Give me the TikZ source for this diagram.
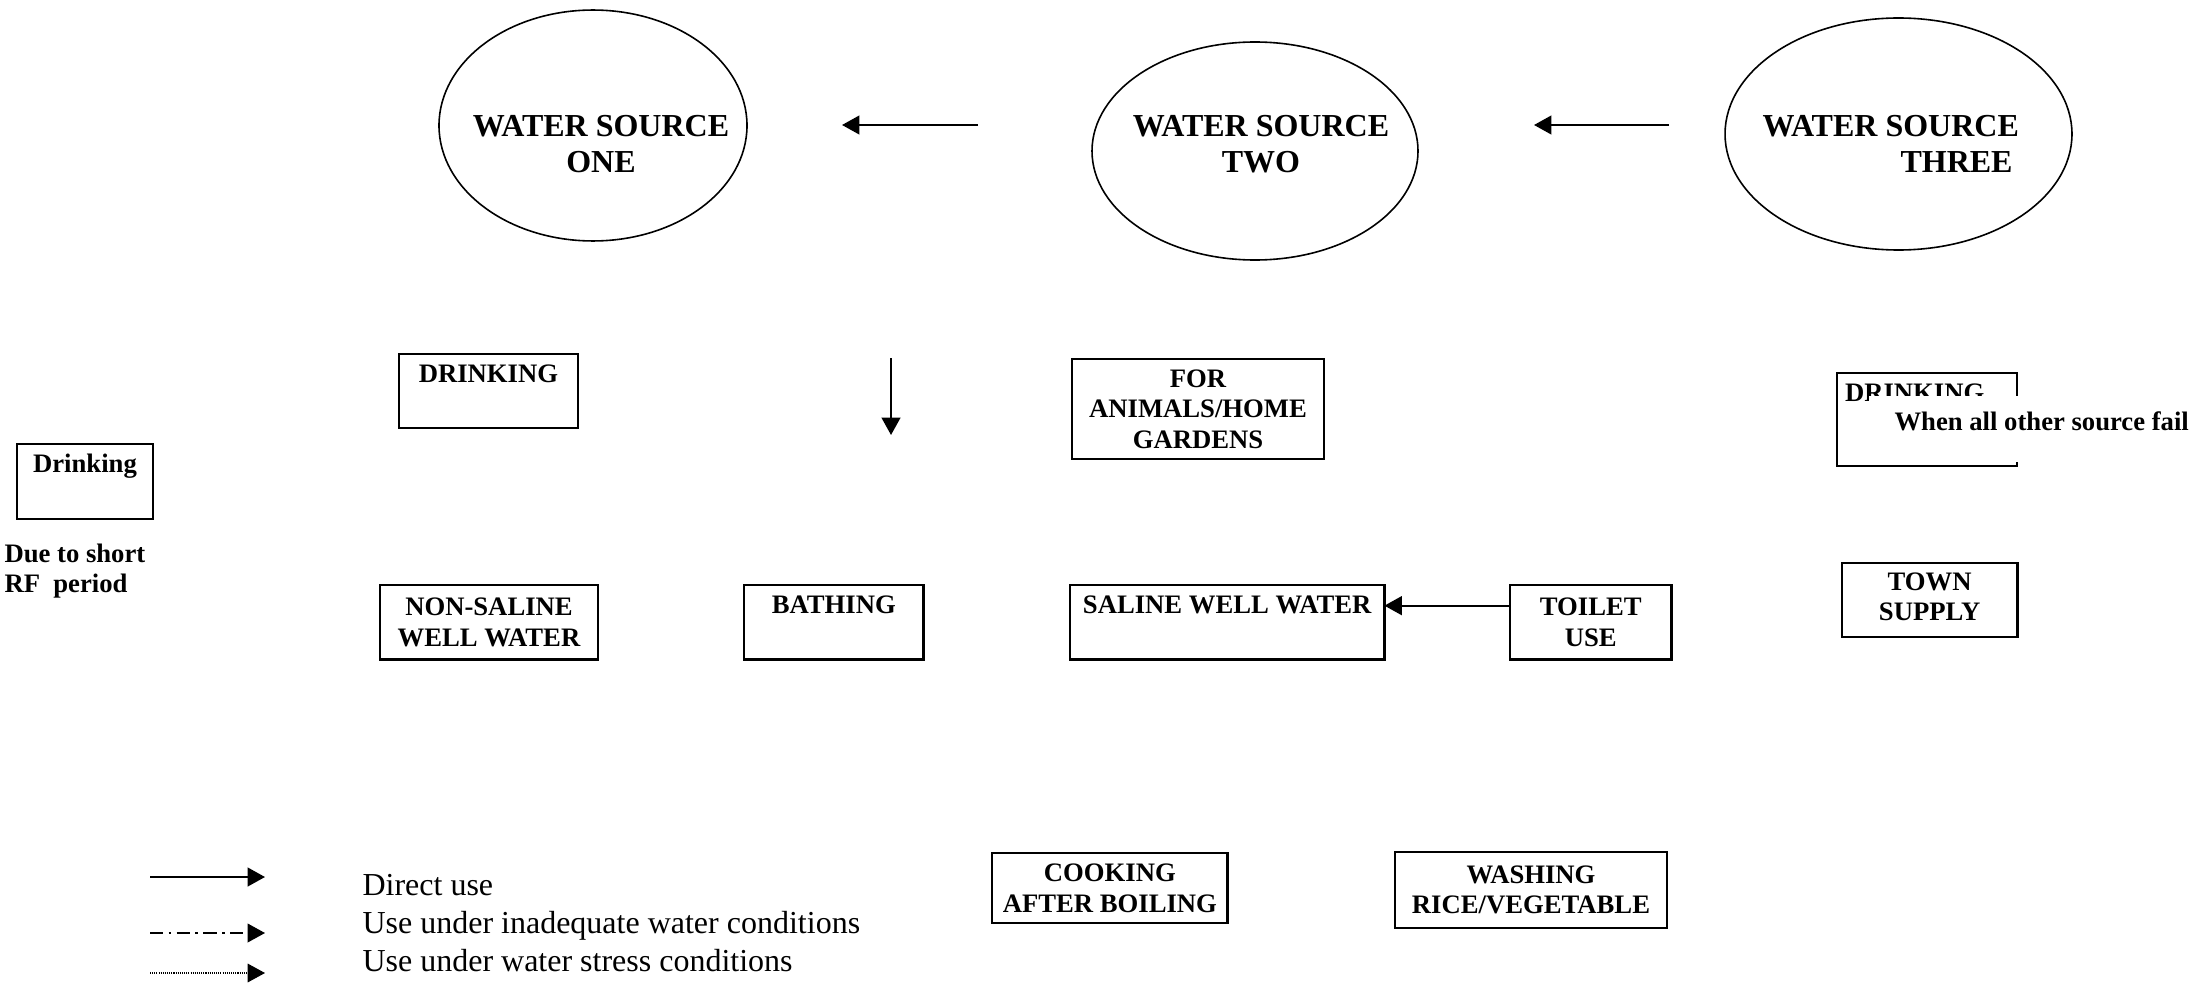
\documentclass[tikz,border=0pt]{standalone}
\usepackage{fontspec}
\setmainfont{Liberation Serif}
\usetikzlibrary{shapes.geometric}
\usetikzlibrary{arrows.meta}
\tikzset{box/.style={draw, line width=1pt, inner sep=3pt, outer sep=0pt, anchor=north west, align=center, font=\fontsize{10}{11.5}\selectfont\bfseries},
	topbox/.style={box, text height=7.5pt, text depth=#1},
	src/.style={draw, ellipse, line width=0.6pt, inner sep=0pt},
	srctext/.style={inner sep=0pt, font=\fontsize{12}{13.5}\selectfont\bfseries},
	legtext/.style={anchor=base west, inner sep=0pt, font=\fontsize{12}{13.8}\selectfont},
	arr/.style={-{Triangle[length=6.5pt,width=7pt]}, line width=0.75pt}}

\begin{document}
\begin{tikzpicture}[x=0.375pt,y=-0.375pt]
	\useasboundingbox (0,0) rectangle (2201,984);
	% water sources
	\node[src, minimum width=115.5pt, minimum height=86.6pt] (one) at (593,125.5) {};
	\node[src, minimum width=122.25pt, minimum height=81.75pt] (two) at (1255,151) {};
	\node[src, minimum width=130.1pt, minimum height=87pt] (three) at (1898.5,134) {};
	\node[srctext, align=center] (onetxt) at (601,144) {WATER SOURCE\\ONE};
	\node[srctext, align=center] (twotxt) at (1261,144) {WATER SOURCE\\TWO};
	\node[srctext, align=left, anchor=west] (threetxt) at (1762,144) {WATER SOURCE\\\hspace*{51.75pt}THREE};
	\coordinate (s2a) at (978,125); \coordinate (s1a) at (842,125);
	\coordinate (s3a) at (1669,125); \coordinate (s2b) at (1534,125);
	\draw[arr] (s2a) -- (s1a);
	\draw[arr] (s3a) -- (s2b);
	\coordinate (dtop) at (891,358); \coordinate (dbot) at (891,435);
	\draw[arr] (dtop) -- (dbot);
	% uses
	\node[topbox=14.25pt, minimum width=67.1pt, minimum height=27.75pt] (drinkone) at (399,354) {DRINKING};
	\node[topbox=14.6pt, minimum width=51pt, minimum height=28.1pt] (drinksmall) at (17,444) {Drinking};
	\node[anchor=west, align=left, inner sep=0pt, font=\fontsize{10}{11.5}\selectfont\bfseries] (rfnote) at (4,571) {Due to short\\RF\ \ period};
	\node[box, minimum width=94.5pt, minimum height=37.5pt] (animals) at (1072,359) {FOR\\ANIMALS/HOME\\GARDENS};
	\node[topbox=21.4pt, text width=61.5pt, align=left, minimum height=34.9pt] (drinkthree) at (1837,373) {DRINKING};
	\node[fill=white, anchor=north west, inner xsep=9.75pt, inner ysep=5.6pt, text height=7.5pt, text depth=6.4pt, font=\fontsize{10}{11.5}\selectfont\bfseries] (fail) at (1868,395) {When all other source fail};
	\node[box, minimum width=81.75pt, minimum height=27.9pt] (nonsaline) at (380,585) {NON-SALINE\\WELL WATER};
	\node[topbox=14.4pt, minimum width=67.4pt, minimum height=27.9pt] (bathing) at (744,585) {BATHING};
	\node[topbox=14.4pt, minimum width=117.9pt, minimum height=27.9pt] (saline) at (1070,585) {SALINE WELL WATER};
	\node[box, minimum width=60.6pt, minimum height=27.9pt] (toilet) at (1510,585) {TOILET\\USE};
	\node[box, minimum width=65.7pt, minimum height=27.8pt, text depth=2.6pt] (town) at (1842,563) {TOWN\\SUPPLY};
	\draw[arr] ([yshift=6.2pt]toilet.west) -- ([yshift=6.2pt]saline.east);
	\node[box, minimum width=88.4pt, minimum height=26.3pt] (cooking) at (992,853) {COOKING\\AFTER BOILING};
	\node[box, minimum width=102pt, minimum height=28.5pt] (washing) at (1395,852) {WASHING\\RICE/VEGETABLE};
	% legend
	\coordinate (l1a) at (150,877); \coordinate (l1b) at (265,877);
	\coordinate (l2a) at (150,933); \coordinate (l2b) at (265,933);
	\coordinate (l3a) at (150,973); \coordinate (l3b) at (265,973);
	\draw[arr] (l1a) -- (l1b);
	\draw[arr, line width=0.6pt, dash pattern=on 5pt off 2pt on 1pt off 2pt] (l2a) -- (l2b);
	\draw[arr, line width=0.4pt, dash pattern=on 0.4pt off 0.4pt] (l3a) -- (l3b);
	\node[legtext] (leg1) at (362,895) {Direct use};
	\node[legtext] (leg2) at (362,933) {Use under inadequate water conditions};
	\node[legtext] (leg3) at (362,971) {Use under water stress conditions};
\end{tikzpicture}
\end{document}
